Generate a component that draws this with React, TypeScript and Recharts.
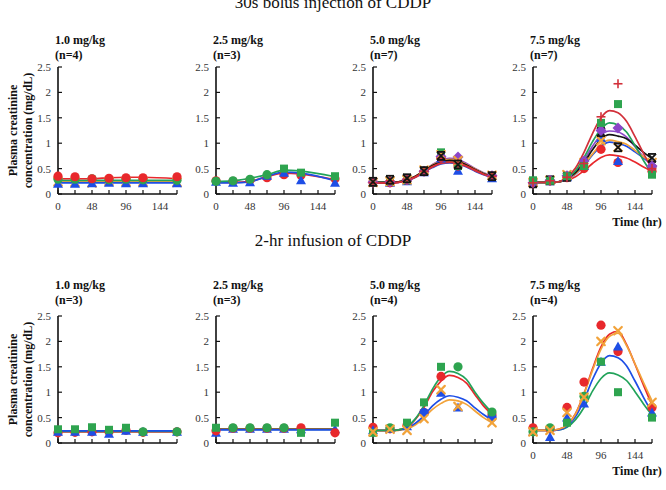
import React from 'react';
import { ComposedChart, Line, Scatter, XAxis, YAxis } from 'recharts';

// Sampling times (hours) and the time grid of the model curves
const sampleHours = [0, 24, 48, 72, 96, 120, 168];
const fitHours = [0, 12, 24, 36, 48, 60, 72, 84, 96, 108, 120, 132, 144, 156, 168];
const hourTicks = [0, 24, 48, 72, 96, 120, 144, 168];
const hourLabels = [0, 48, 96, 144];
const concTicks = [0, 0.5, 1, 1.5, 2, 2.5];

const doseLabels = ['1.0 mg/kg', '2.5 mg/kg', '5.0 mg/kg', '7.5 mg/kg'];
const bolusCounts = ['(n=4)', '(n=3)', '(n=7)', '(n=7)'];
const infusionCounts = ['(n=3)', '(n=3)', '(n=4)', '(n=4)'];
const groupTitles = ['30s bolus injection of CDDP', '2-hr infusion of CDDP'];
const yTitleLines = ['Plasma creatinine', 'concentration (mg/dL)'];
const timeTitle = 'Time (hr)';

// ---- 30s bolus, 1.0 mg/kg (observed at sampleHours) ----
const bolus10Red = [0.35, 0.34, 0.3, 0.31, 0.32, 0.32, 0.34];
const bolus10Green = [0.29, 0.29, 0.3, 0.28, 0.29, 0.28, 0.27];
const bolus10Orange = [0.24, 0.23, 0.22, 0.25, 0.24, 0.24, 0.23];
const bolus10Blue = [0.2, 0.2, 0.21, 0.22, 0.21, 0.21, 0.21];
const bolus10RedFit = [0.3, 0.3, 0.3, 0.32, 0.33, 0.33, 0.3];
const bolus10GreenFit = [0.27, 0.27, 0.27, 0.27, 0.27, 0.27, 0.27];
const bolus10OrangeFit = [0.24, 0.24, 0.24, 0.24, 0.24, 0.24, 0.24];
const bolus10BlueFit = [0.22, 0.22, 0.22, 0.22, 0.22, 0.22, 0.22];

// ---- 30s bolus, 2.5 mg/kg ----
const bolus25GreenCircle = [0.25, 0.26, 0.29, 0.38, null, null, null];
const bolus25GreenSquare = [null, null, null, null, 0.5, 0.42, 0.35];
const bolus25Red = [0.26, 0.25, 0.27, 0.32, 0.38, 0.37, 0.3];
const bolus25Blue = [0.24, 0.22, 0.23, 0.36, 0.42, 0.27, 0.22];
const bolus25GreenFit = [0.25, 0.26, 0.31, 0.38, 0.47, 0.45, 0.34];
const bolus25RedFit = [0.23, 0.23, 0.25, 0.34, 0.41, 0.39, 0.28];
const bolus25BlueFit = [0.22, 0.22, 0.24, 0.35, 0.43, 0.41, 0.26];

// ---- 30s bolus, 5.0 mg/kg ----
const bolus50Blue = [0.22, 0.22, 0.25, 0.43, 0.7, 0.46, 0.31];
const bolus50Red = [0.24, 0.22, 0.27, 0.44, 0.72, 0.55, 0.35];
const bolus50Black = [0.24, 0.28, 0.31, 0.45, 0.75, 0.58, 0.35];
const bolus50Green = [0.22, 0.24, 0.27, 0.46, 0.82, 0.55, 0.34];
const bolus50Purple = [0.23, 0.24, 0.28, 0.45, 0.74, 0.73, 0.36];
const bolus50Orange = [0.23, 0.25, 0.28, 0.47, 0.77, 0.66, 0.37];
const bolus50Crimson = [0.22, 0.26, 0.29, 0.45, 0.7, 0.6, 0.35];
const bolus50PurpleFit = [0.23, 0.23, 0.23, 0.24, 0.28, 0.35, 0.46, 0.58, 0.67, 0.7, 0.68, 0.6, 0.5, 0.42, 0.36];
const bolus50OrangeFit = [0.23, 0.23, 0.23, 0.24, 0.28, 0.35, 0.46, 0.57, 0.65, 0.68, 0.66, 0.58, 0.49, 0.41, 0.35];
const bolus50BlackFit = [0.23, 0.23, 0.23, 0.24, 0.28, 0.35, 0.45, 0.56, 0.63, 0.66, 0.64, 0.57, 0.48, 0.4, 0.35];
const bolus50GreenFit = [0.23, 0.23, 0.23, 0.24, 0.27, 0.34, 0.45, 0.55, 0.62, 0.64, 0.62, 0.56, 0.47, 0.4, 0.34];
const bolus50RedFit = [0.22, 0.22, 0.22, 0.23, 0.27, 0.34, 0.44, 0.54, 0.61, 0.63, 0.61, 0.55, 0.47, 0.39, 0.34];
const bolus50CrimsonFit = [0.22, 0.22, 0.22, 0.23, 0.26, 0.33, 0.43, 0.53, 0.6, 0.62, 0.6, 0.54, 0.46, 0.39, 0.33];
const bolus50BlueFit = [0.22, 0.22, 0.22, 0.23, 0.26, 0.33, 0.43, 0.52, 0.59, 0.61, 0.59, 0.53, 0.45, 0.38, 0.33];

// ---- 30s bolus, 7.5 mg/kg ----
const bolus75Crimson = [0.22, 0.26, 0.33, 0.6, 1.52, 2.17, 0.5];
const bolus75Green = [0.27, 0.26, 0.35, 0.55, 1.4, 1.77, 0.38];
const bolus75Purple = [0.22, 0.27, 0.36, 0.65, 1.25, 1.3, 0.55];
const bolus75Black = [0.21, 0.27, 0.34, 0.6, 1.22, 0.92, 0.71];
const bolus75Blue = [0.22, 0.25, 0.33, 0.55, 1.1, 0.65, 0.6];
const bolus75Orange = [0.23, 0.27, 0.38, 0.62, 1.05, 0.92, 0.62];
const bolus75Red = [0.2, 0.26, 0.32, 0.5, 0.88, 0.62, 0.45];
const bolus75CrimsonFit = [0.23, 0.23, 0.23, 0.24, 0.33, 0.51, 0.82, 1.19, 1.5, 1.64, 1.6, 1.43, 1.13, 0.8, 0.5];
const bolus75GreenFit = [0.23, 0.23, 0.23, 0.24, 0.31, 0.46, 0.72, 1.03, 1.28, 1.4, 1.36, 1.22, 0.95, 0.66, 0.4];
const bolus75PurpleFit = [0.23, 0.23, 0.23, 0.24, 0.3, 0.44, 0.67, 0.94, 1.16, 1.24, 1.22, 1.12, 0.93, 0.73, 0.55];
const bolus75BlackFit = [0.23, 0.23, 0.23, 0.24, 0.3, 0.42, 0.62, 0.87, 1.08, 1.17, 1.14, 1.09, 0.96, 0.82, 0.7];
const bolus75OrangeFit = [0.23, 0.23, 0.23, 0.24, 0.29, 0.4, 0.58, 0.79, 0.98, 1.06, 1.03, 0.98, 0.86, 0.73, 0.62];
const bolus75BlueFit = [0.23, 0.23, 0.23, 0.24, 0.29, 0.39, 0.56, 0.77, 0.94, 1.02, 0.99, 0.94, 0.83, 0.71, 0.6];
const bolus75RedFit = [0.23, 0.23, 0.23, 0.24, 0.27, 0.34, 0.46, 0.6, 0.72, 0.77, 0.75, 0.71, 0.63, 0.53, 0.45];

// ---- 2-hr infusion, 1.0 mg/kg ----
const inf10GreenSquare = [0.27, 0.27, 0.31, 0.26, 0.3, null, null];
const inf10GreenCircle = [null, null, null, null, null, 0.22, 0.22];
const inf10Red = [0.2, 0.21, 0.22, 0.22, 0.25, 0.21, 0.22];
const inf10Blue = [0.22, 0.22, 0.22, 0.18, 0.24, 0.22, 0.22];
const inf10BlueFit = [0.24, 0.24, 0.24, 0.24, 0.24, 0.24, 0.24];
const inf10GreenFit = [0.23, 0.23, 0.23, 0.23, 0.23, 0.23, 0.23];
const inf10RedFit = [0.22, 0.22, 0.22, 0.22, 0.22, 0.22, 0.22];

// ---- 2-hr infusion, 2.5 mg/kg ----
const inf25GreenSquare = [0.3, null, null, null, null, 0.2, 0.4];
const inf25GreenCircle = [null, 0.3, 0.3, 0.3, 0.3, null, null];
const inf25Red = [0.24, 0.29, 0.29, 0.29, 0.29, 0.3, 0.2];
const inf25Blue = [0.2, 0.28, 0.28, 0.28, 0.28, 0.27, 0.27];
const inf25BlueFit = [0.26, 0.26, 0.26, 0.26, 0.26, 0.26, 0.26];
const inf25GreenFit = [0.27, 0.27, 0.27, 0.27, 0.27, 0.27, 0.27];
const inf25RedFit = [0.28, 0.28, 0.28, 0.28, 0.28, 0.28, 0.28];

// ---- 2-hr infusion, 5.0 mg/kg ----
const inf50GreenSquare = [0.2, null, 0.4, 0.8, 1.5, null, null];
const inf50GreenCircle = [null, 0.3, null, null, null, 1.5, 0.61];
const inf50Red = [0.31, 0.28, 0.35, 0.6, 1.31, null, 0.55];
const inf50BlueCircle = [null, null, null, 0.6, null, null, 0.5];
const inf50BlueTriangle = [0.25, 0.28, 0.33, null, 0.99, 0.7, null];
const inf50Orange = [0.22, 0.27, 0.25, 0.48, 1.05, 0.72, 0.4];
const inf50GreenFit = [0.25, 0.25, 0.25, 0.26, 0.32, 0.48, 0.74, 1.06, 1.3, 1.41, 1.37, 1.25, 1.0, 0.78, 0.6];
const inf50RedFit = [0.25, 0.25, 0.25, 0.26, 0.31, 0.47, 0.7, 1.01, 1.22, 1.33, 1.29, 1.18, 0.95, 0.73, 0.56];
const inf50BlueFit = [0.25, 0.25, 0.25, 0.26, 0.29, 0.39, 0.54, 0.73, 0.86, 0.93, 0.9, 0.83, 0.69, 0.56, 0.45];
const inf50OrangeFit = [0.24, 0.24, 0.24, 0.25, 0.28, 0.36, 0.5, 0.66, 0.78, 0.85, 0.83, 0.76, 0.63, 0.5, 0.4];

// ---- 2-hr infusion, 7.5 mg/kg ----
const inf75Red = [0.3, 0.28, 0.7, 1.2, 2.32, 1.8, 0.7];
const inf75Orange = [0.22, 0.25, 0.6, 0.9, 2.0, 2.21, 0.8];
const inf75Blue = [0.22, 0.12, 0.5, 0.78, 1.6, 1.9, 0.6];
const inf75GreenCircle = [0.22, 0.3, null, 0.92, null, null, null];
const inf75GreenSquare = [null, null, 0.4, null, 1.6, 1.0, 0.5];
const inf75RedFit = [0.25, 0.25, 0.25, 0.27, 0.35, 0.58, 0.97, 1.46, 1.89, 2.14, 2.2, 1.94, 1.55, 1.14, 0.75];
const inf75OrangeFit = [0.25, 0.25, 0.25, 0.27, 0.35, 0.57, 0.96, 1.43, 1.85, 2.1, 2.16, 1.92, 1.56, 1.19, 0.83];
const inf75BlueFit = [0.25, 0.25, 0.25, 0.26, 0.33, 0.52, 0.84, 1.25, 1.57, 1.72, 1.68, 1.52, 1.22, 0.9, 0.6];
const inf75GreenFit = [0.25, 0.25, 0.25, 0.26, 0.31, 0.46, 0.7, 1.02, 1.27, 1.38, 1.34, 1.23, 1.01, 0.77, 0.55];

// ---- styling ----
const SERIF = '"Liberation Serif", "Times New Roman", "DejaVu Serif", serif';
const RED = '#e8282c';
const CRIMSON = '#d2303a';
const GREEN = '#2ea44f';
const FIT_GREEN = '#22a35a';
const BLUE = '#1e4ee6';
const ORANGE = '#f2a33a';
const PURPLE = '#8b46c8';
const BLACK = '#141414';

type MarkKind = 'circle' | 'square' | 'triangle' | 'diamond' | 'cross' | 'plus' | 'asterisk';
type MarkSet = { kind: MarkKind; color: string; values: (number | null)[] };
type FitSet = { color: string; hours: number[]; values: number[]; curve: 'monotone' | 'linear' };

const toPoints = (hours: number[], values: (number | null)[]) =>
  hours
    .map((t, i) => ({ t, v: values[i] }))
    .filter((p) => p.v !== null && p.v !== undefined) as { t: number; v: number }[];

function makeMarker(kind: MarkKind, color: string) {
  return (props: any) => {
    const { cx, cy } = props;
    if (cx == null || cy == null) return <g />;
    switch (kind) {
      case 'circle':
        return <circle cx={cx} cy={cy} r={4.6} fill={color} />;
      case 'square':
        return <rect x={cx - 4} y={cy - 4} width={8} height={8} fill={color} />;
      case 'triangle':
        return <polygon points={`${cx},${cy - 5} ${cx - 5},${cy + 4} ${cx + 5},${cy + 4}`} fill={color} />;
      case 'diamond':
        return <polygon points={`${cx},${cy - 5.5} ${cx + 5.5},${cy} ${cx},${cy + 5.5} ${cx - 5.5},${cy}`} fill={color} />;
      case 'cross':
        return (
          <g stroke={color} strokeWidth={2.2} strokeLinecap="round">
            <line x1={cx - 3.8} y1={cy - 3.8} x2={cx + 3.8} y2={cy + 3.8} />
            <line x1={cx - 3.8} y1={cy + 3.8} x2={cx + 3.8} y2={cy - 3.8} />
          </g>
        );
      case 'plus':
        return (
          <g stroke={color} strokeWidth={1.6}>
            <line x1={cx - 4.5} y1={cy} x2={cx + 4.5} y2={cy} />
            <line x1={cx} y1={cy - 4.5} x2={cx} y2={cy + 4.5} />
          </g>
        );
      default:
        return (
          <g stroke={color} strokeWidth={1.8}>
            <line x1={cx - 4} y1={cy - 4} x2={cx + 4} y2={cy + 4} />
            <line x1={cx - 4} y1={cy + 4} x2={cx + 4} y2={cy - 4} />
            <line x1={cx - 4} y1={cy - 4} x2={cx + 4} y2={cy - 4} />
            <line x1={cx - 4} y1={cy + 4} x2={cx + 4} y2={cy + 4} />
          </g>
        );
    }
  };
}

// ---- panel configuration ----
const bolusPanels: { marks: MarkSet[]; fits: FitSet[] }[] = [
  {
    marks: [
      { kind: 'cross', color: ORANGE, values: bolus10Orange },
      { kind: 'triangle', color: BLUE, values: bolus10Blue },
      { kind: 'circle', color: GREEN, values: bolus10Green },
      { kind: 'circle', color: RED, values: bolus10Red },
    ],
    fits: [
      { color: ORANGE, hours: sampleHours, values: bolus10OrangeFit, curve: 'linear' },
      { color: BLUE, hours: sampleHours, values: bolus10BlueFit, curve: 'linear' },
      { color: FIT_GREEN, hours: sampleHours, values: bolus10GreenFit, curve: 'linear' },
      { color: RED, hours: sampleHours, values: bolus10RedFit, curve: 'monotone' },
    ],
  },
  {
    marks: [
      { kind: 'circle', color: RED, values: bolus25Red },
      { kind: 'triangle', color: BLUE, values: bolus25Blue },
      { kind: 'circle', color: GREEN, values: bolus25GreenCircle },
      { kind: 'square', color: GREEN, values: bolus25GreenSquare },
    ],
    fits: [
      { color: RED, hours: sampleHours, values: bolus25RedFit, curve: 'monotone' },
      { color: BLUE, hours: sampleHours, values: bolus25BlueFit, curve: 'monotone' },
      { color: FIT_GREEN, hours: sampleHours, values: bolus25GreenFit, curve: 'monotone' },
    ],
  },
  {
    marks: [
      { kind: 'triangle', color: BLUE, values: bolus50Blue },
      { kind: 'circle', color: RED, values: bolus50Red },
      { kind: 'square', color: GREEN, values: bolus50Green },
      { kind: 'diamond', color: PURPLE, values: bolus50Purple },
      { kind: 'cross', color: ORANGE, values: bolus50Orange },
      { kind: 'plus', color: CRIMSON, values: bolus50Crimson },
      { kind: 'asterisk', color: BLACK, values: bolus50Black },
    ],
    fits: [
      { color: PURPLE, hours: fitHours, values: bolus50PurpleFit, curve: 'monotone' },
      { color: ORANGE, hours: fitHours, values: bolus50OrangeFit, curve: 'monotone' },
      { color: FIT_GREEN, hours: fitHours, values: bolus50GreenFit, curve: 'monotone' },
      { color: BLUE, hours: fitHours, values: bolus50BlueFit, curve: 'monotone' },
      { color: BLACK, hours: fitHours, values: bolus50BlackFit, curve: 'monotone' },
      { color: RED, hours: fitHours, values: bolus50RedFit, curve: 'monotone' },
      { color: CRIMSON, hours: fitHours, values: bolus50CrimsonFit, curve: 'monotone' },
    ],
  },
  {
    marks: [
      { kind: 'circle', color: RED, values: bolus75Red },
      { kind: 'triangle', color: BLUE, values: bolus75Blue },
      { kind: 'cross', color: ORANGE, values: bolus75Orange },
      { kind: 'asterisk', color: BLACK, values: bolus75Black },
      { kind: 'diamond', color: PURPLE, values: bolus75Purple },
      { kind: 'square', color: GREEN, values: bolus75Green },
      { kind: 'plus', color: CRIMSON, values: bolus75Crimson },
    ],
    fits: [
      { color: PURPLE, hours: fitHours, values: bolus75PurpleFit, curve: 'monotone' },
      { color: RED, hours: fitHours, values: bolus75RedFit, curve: 'monotone' },
      { color: BLUE, hours: fitHours, values: bolus75BlueFit, curve: 'monotone' },
      { color: ORANGE, hours: fitHours, values: bolus75OrangeFit, curve: 'monotone' },
      { color: BLACK, hours: fitHours, values: bolus75BlackFit, curve: 'monotone' },
      { color: FIT_GREEN, hours: fitHours, values: bolus75GreenFit, curve: 'monotone' },
      { color: CRIMSON, hours: fitHours, values: bolus75CrimsonFit, curve: 'monotone' },
    ],
  },
];

const infusionPanels: { marks: MarkSet[]; fits: FitSet[] }[] = [
  {
    marks: [
      { kind: 'circle', color: RED, values: inf10Red },
      { kind: 'triangle', color: BLUE, values: inf10Blue },
      { kind: 'square', color: GREEN, values: inf10GreenSquare },
      { kind: 'circle', color: GREEN, values: inf10GreenCircle },
    ],
    fits: [
      { color: RED, hours: sampleHours, values: inf10RedFit, curve: 'linear' },
      { color: FIT_GREEN, hours: sampleHours, values: inf10GreenFit, curve: 'linear' },
      { color: BLUE, hours: sampleHours, values: inf10BlueFit, curve: 'linear' },
    ],
  },
  {
    marks: [
      { kind: 'triangle', color: BLUE, values: inf25Blue },
      { kind: 'circle', color: RED, values: inf25Red },
      { kind: 'square', color: GREEN, values: inf25GreenSquare },
      { kind: 'circle', color: GREEN, values: inf25GreenCircle },
    ],
    fits: [
      { color: RED, hours: sampleHours, values: inf25RedFit, curve: 'linear' },
      { color: FIT_GREEN, hours: sampleHours, values: inf25GreenFit, curve: 'linear' },
      { color: BLUE, hours: sampleHours, values: inf25BlueFit, curve: 'linear' },
    ],
  },
  {
    marks: [
      { kind: 'circle', color: RED, values: inf50Red },
      { kind: 'circle', color: BLUE, values: inf50BlueCircle },
      { kind: 'triangle', color: BLUE, values: inf50BlueTriangle },
      { kind: 'square', color: GREEN, values: inf50GreenSquare },
      { kind: 'circle', color: GREEN, values: inf50GreenCircle },
      { kind: 'cross', color: ORANGE, values: inf50Orange },
    ],
    fits: [
      { color: ORANGE, hours: fitHours, values: inf50OrangeFit, curve: 'monotone' },
      { color: BLUE, hours: fitHours, values: inf50BlueFit, curve: 'monotone' },
      { color: RED, hours: fitHours, values: inf50RedFit, curve: 'monotone' },
      { color: FIT_GREEN, hours: fitHours, values: inf50GreenFit, curve: 'monotone' },
    ],
  },
  {
    marks: [
      { kind: 'circle', color: RED, values: inf75Red },
      { kind: 'triangle', color: BLUE, values: inf75Blue },
      { kind: 'square', color: GREEN, values: inf75GreenSquare },
      { kind: 'circle', color: GREEN, values: inf75GreenCircle },
      { kind: 'cross', color: ORANGE, values: inf75Orange },
    ],
    fits: [
      { color: FIT_GREEN, hours: fitHours, values: inf75GreenFit, curve: 'monotone' },
      { color: BLUE, hours: fitHours, values: inf75BlueFit, curve: 'monotone' },
      { color: RED, hours: fitHours, values: inf75RedFit, curve: 'monotone' },
      { color: ORANGE, hours: fitHours, values: inf75OrangeFit, curve: 'monotone' },
    ],
  },
];

// ---- layout ----
const AXIS_X = [58, 216, 373, 533];
const ROW_TOP = [67, 316]; // pixel row of the 2.5 gridline
const PLOT_W = 119;
const PLOT_H = 127;
const Y_AXIS_W = 30;
const M_TOP = 8;
const M_RIGHT = 10;
const X_AXIS_H = 26;

function Panel({
  axisX,
  plotTop,
  marks,
  fits,
  showHourLabels,
}: {
  axisX: number;
  plotTop: number;
  marks: MarkSet[];
  fits: FitSet[];
  showHourLabels: boolean;
}) {
  const tickStyle = { fill: '#333', fontSize: 11, fontFamily: SERIF };
  return (
    <div style={{ position: 'absolute', left: axisX - Y_AXIS_W, top: plotTop - M_TOP }}>
      <ComposedChart
        width={Y_AXIS_W + PLOT_W + M_RIGHT}
        height={M_TOP + PLOT_H + X_AXIS_H}
        margin={{ top: M_TOP, right: M_RIGHT, bottom: 0, left: 0 }}
      >
        <XAxis
          type="number"
          dataKey="t"
          domain={[0, 168]}
          ticks={hourTicks}
          interval={0}
          height={X_AXIS_H}
          tickSize={-4}
          tickMargin={12}
          tickFormatter={(v: number) => (showHourLabels && hourLabels.includes(v) ? String(v) : '')}
          axisLine={{ stroke: '#111', strokeWidth: 1.6 }}
          tickLine={{ stroke: '#111', strokeWidth: 1.2 }}
          tick={tickStyle}
        />
        <YAxis
          type="number"
          dataKey="v"
          domain={[0, 2.5]}
          ticks={concTicks}
          interval={0}
          width={Y_AXIS_W}
          tickSize={-4}
          tickMargin={11}
          tickFormatter={(v: number) => String(v)}
          axisLine={{ stroke: '#111', strokeWidth: 1.6 }}
          tickLine={{ stroke: '#111', strokeWidth: 1.2 }}
          tick={tickStyle}
        />
        {marks.map((m, i) => (
          <Scatter
            key={`m${i}`}
            data={toPoints(sampleHours, m.values)}
            dataKey="v"
            fill={m.color}
            shape={makeMarker(m.kind, m.color)}
            isAnimationActive={false}
          />
        ))}
        {fits.map((f, i) => (
          <Line
            key={`f${i}`}
            data={toPoints(f.hours, f.values)}
            dataKey="v"
            type={f.curve}
            stroke={f.color}
            strokeWidth={1.7}
            dot={false}
            activeDot={false}
            isAnimationActive={false}
          />
        ))}
      </ComposedChart>
    </div>
  );
}

function Labels() {
  const bold = { fontFamily: SERIF, fontWeight: 700, fontSize: 12, fill: '#111' } as const;
  const rows = [
    { counts: bolusCounts, line1: 44, line2: 59, mid: ROW_TOP[0] + PLOT_H / 2, time: 226 },
    { counts: infusionCounts, line1: 289, line2: 304, mid: ROW_TOP[1] + PLOT_H / 2, time: 475 },
  ];
  return (
    <svg width={666} height={490} style={{ position: 'absolute', left: 0, top: 0, pointerEvents: 'none' }}>
      <text x={333} y={8} textAnchor="middle" fontFamily={SERIF} fontSize={17} fill="#111">
        {groupTitles[0]}
      </text>
      <text x={333} y={246} textAnchor="middle" fontFamily={SERIF} fontSize={17} fill="#111">
        {groupTitles[1]}
      </text>
      {rows.map((r, ri) => (
        <g key={ri}>
          {AXIS_X.map((ax, pi) => (
            <g key={pi}>
              <text x={ax - 3} y={r.line1} {...bold}>
                {doseLabels[pi]}
              </text>
              <text x={ax - 3} y={r.line2} {...bold}>
                {r.counts[pi]}
              </text>
            </g>
          ))}
          <text x={17} y={r.mid} textAnchor="middle" transform={`rotate(-90 17 ${r.mid})`} {...bold}>
            {yTitleLines[0]}
          </text>
          <text x={32} y={r.mid} textAnchor="middle" transform={`rotate(-90 32 ${r.mid})`} {...bold}>
            {yTitleLines[1]}
          </text>
          <text x={637} y={r.time} textAnchor="middle" {...bold}>
            {timeTitle}
          </text>
        </g>
      ))}
    </svg>
  );
}

export default function App() {
  return (
    <div style={{ position: 'absolute', left: 0, top: 0, width: 666, height: 490, background: '#fff', overflow: 'hidden' }}>
      {bolusPanels.map((p, i) => (
        <Panel key={`b${i}`} axisX={AXIS_X[i]} plotTop={ROW_TOP[0]} marks={p.marks} fits={p.fits} showHourLabels />
      ))}
      {infusionPanels.map((p, i) => (
        <Panel
          key={`i${i}`}
          axisX={AXIS_X[i]}
          plotTop={ROW_TOP[1]}
          marks={p.marks}
          fits={p.fits}
          showHourLabels={i === 3}
        />
      ))}
      <Labels />
    </div>
  );
}
